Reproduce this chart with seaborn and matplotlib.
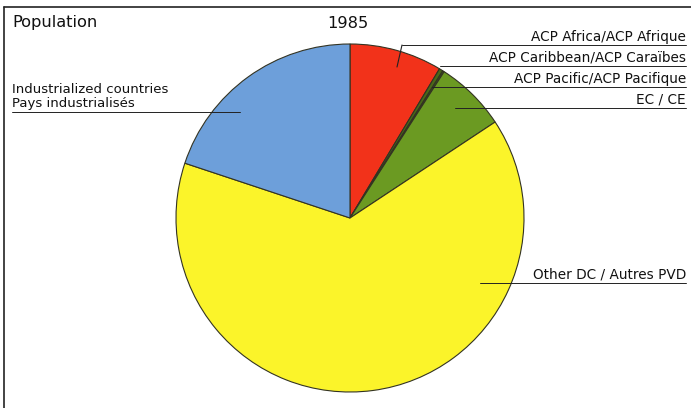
import matplotlib
matplotlib.use("Agg")
import matplotlib.pyplot as plt
import seaborn as sns

sns.set_theme(style="white")
plt.rcParams['font.family'] = ['DejaVu Sans']

categories = ["ACP Africa/ACP Afrique", "ACP Caribbean/ACP Caraïbes",
              "ACP Pacific/ACP Pacifique", "EC / CE",
              "Other DC / Autres PVD", "Industrialized countries\nPays industrialisés"]
shares = [8.6, 0.35, 0.15, 6.6, 64.4, 19.9]
colors = ["#f2321a", "#4a6a18", "#3a5a10", "#6b9a22", "#fbf42a", "#6d9fda"]

fig = plt.figure(figsize=(6.91, 4.08), dpi=100)
fig.patch.set_facecolor("white")
ax = fig.add_axes([0, 0, 1, 1])

H = 408
cx, cy, r = 350, H - 218, 174
ax.pie(shares, colors=colors, startangle=90, counterclock=False,
       center=(cx, cy), radius=r, frame=True,
       wedgeprops=dict(edgecolor="#333322", linewidth=0.8))
ax.set_xlim(0, 691)
ax.set_ylim(0, 408)
ax.set_aspect("equal")
ax.set_axis_off()

# frame
ax.plot([4, 691], [H - 7, H - 7], color="#222222", lw=1.2)
ax.plot([4, 4], [H - 7, 0], color="#222222", lw=1.2)

tc = "#111111"
ax.text(12, H - 27, "Population", fontsize=11.7, va="baseline", ha="left", color=tc)
ax.text(348, H - 28, "1985", fontsize=11.7, va="baseline", ha="center", color=tc)

lc = "#222222"
fs = 9.8
right_x = 686
# right labels: (text, line y, line start x)
right = [
    (categories[0], 45, 402),
    (categories[1], 66, 440),
    (categories[2], 87, 432),
    (categories[3], 108, 455),
]
for txt, ly, sx in right:
    ax.plot([sx, right_x], [H - ly, H - ly], color=lc, lw=0.7)
    ax.text(right_x, H - ly + 4.5, txt, fontsize=fs, ha="right", va="baseline", color=tc)
# africa leader into the red slice
ax.plot([402, 397], [H - 45, H - 67], color=lc, lw=0.8)

ax.plot([480, right_x], [H - 283, H - 283], color=lc, lw=0.7)
ax.text(right_x, H - 283 + 4.5, categories[4], fontsize=fs, ha="right", va="baseline", color=tc)

ax.plot([12, 240], [H - 112, H - 112], color=lc, lw=0.7)
ind1, ind2 = categories[5].split("\n")
ax.text(12, H - 93, ind1, fontsize=9.5, ha="left", va="baseline", color=tc)
ax.text(12, H - 107, ind2, fontsize=9.5, ha="left", va="baseline", color=tc)

fig.savefig("out.png", dpi=100, facecolor="white")
